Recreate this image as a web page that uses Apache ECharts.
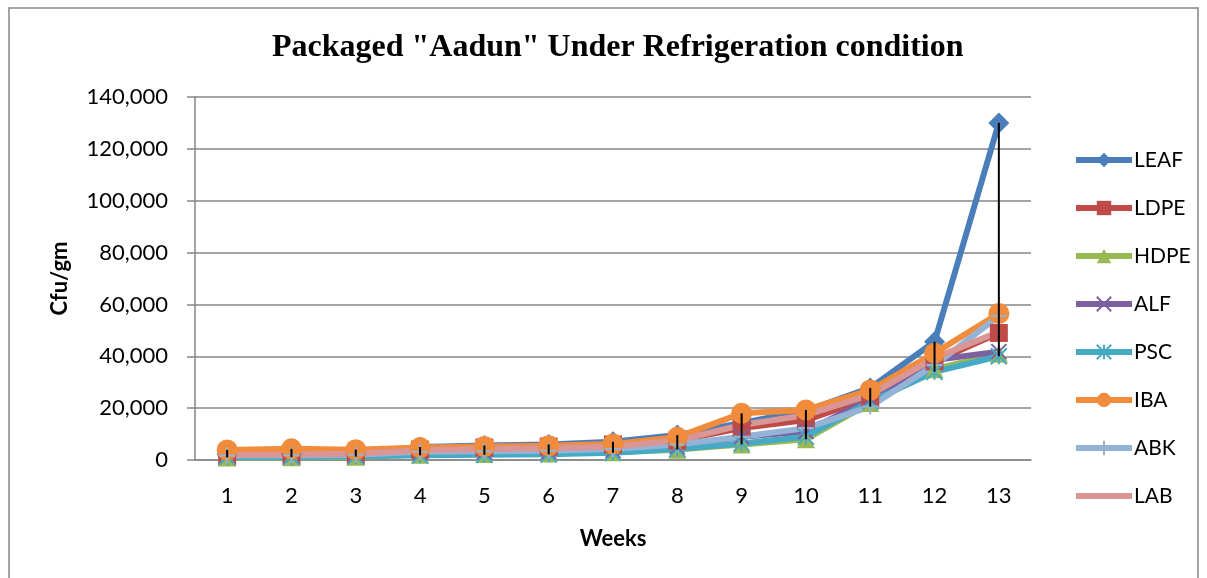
<!DOCTYPE html>
<html>
<head>
<meta charset="utf-8">
<script src="https://cdn.jsdelivr.net/npm/echarts@6/dist/echarts.min.js"></script>
<style>
  html, body { margin: 0; padding: 0; background: #fff; }
  #chart { width: 1207px; height: 578px; }
</style>
</head>
<body>
<div id="chart"></div>
<script>
// weeks on the x axis
var weeks = ['1', '2', '3', '4', '5', '6', '7', '8', '9', '10', '11', '12', '13'];
var yTicks = [0, 20000, 40000, 60000, 80000, 100000, 120000, 140000];

// Cfu/gm per packaging type
var LEAF = [2200, 2300, 2500, 5000, 5600, 6000, 7000, 9600, 14300, 19000, 27800, 45600, 130000];
var LDPE = [1200, 1300, 1500, 4000, 4800, 5200, 6000, 7500, 12300, 15400, 23900, 38000, 49000];
var HDPE = [1000, 1100, 1300, 2000, 2300, 2500, 3000, 4000, 6000, 8000, 22000, 35000, 41000];
var ALF = [1300, 1400, 1800, 2800, 3000, 3200, 3600, 5000, 9000, 11000, 23500, 38600, 41800];
var PSC = [1200, 1200, 1400, 1800, 2000, 2200, 2800, 4200, 6400, 9000, 22500, 34000, 40000];
var IBA = [3900, 4300, 4000, 4800, 5200, 5500, 6200, 8800, 18000, 19300, 27000, 41200, 56500];
var ABK = [1700, 1800, 2000, 3200, 3400, 3600, 4200, 6000, 9000, 12300, 20600, 36600, 55500];
var LAB = [2000, 2100, 2400, 3800, 4200, 4500, 5200, 7500, 13500, 17300, 25100, 39300, 49500];

var names = ['LEAF', 'LDPE', 'HDPE', 'ALF', 'PSC', 'IBA', 'ABK', 'LAB'];
var values = [LEAF, LDPE, HDPE, ALF, PSC, IBA, ABK, LAB];
var colors = ['#4A7EBB', '#BE4B48', '#98B954', '#7D60A0', '#46AAC5', '#F08C3C', '#95B3D7', '#D99694'];
var symbols = [
  'diamond', 'rect', 'triangle',
  'path://M0,0L10,10M10,0L0,10',
  'path://M5,0L5,10M0,0L10,10M10,0L0,10',
  'circle',
  'path://M5,0L5,10M0,5L10,5',
  'none'
];
var symSizes = [21, 18, 18, 15, 16, 21, 16, 0];

var font = 'Lato, "Open Sans", sans-serif';

// high-low lines built from the series
var hiLo = weeks.map(function (w, i) {
  var col = values.map(function (s) { return s[i]; });
  return [i, Math.min.apply(null, col), Math.max.apply(null, col)];
});

var series = names.map(function (n, k) {
  var isPath = symbols[k].indexOf('path://') === 0;
  return {
    name: n,
    type: 'line',
    data: values[k],
    symbol: symbols[k],
    symbolSize: symSizes[k],
    showSymbol: symbols[k] !== 'none',
    animation: false,
    lineStyle: { color: colors[k], width: 6 },
    itemStyle: isPath
      ? { color: colors[k], borderColor: colors[k], borderWidth: 2 }
      : { color: colors[k], borderColor: colors[k], borderWidth: 0 }
  };
});

series.push({
  type: 'custom',
  name: 'hilo',
  z: 10,
  silent: true,
  animation: false,
  data: hiLo,
  renderItem: function (params, api) {
    var lo = api.coord([api.value(0), api.value(1)]);
    var hi = api.coord([api.value(0), api.value(2)]);
    return {
      type: 'line',
      shape: { x1: lo[0], y1: lo[1], x2: hi[0], y2: hi[1] },
      style: { stroke: '#000', lineWidth: 2 }
    };
  }
});

// LAB has no marker: plain line icon in the legend
var legendData = names.map(function (n, k) {
  if (symbols[k] === 'none') {
    return { name: n, icon: 'path://M0,0L0.01,0M0,6L56,6L56,12L0,12ZM0,18L0.01,18' };
  }
  return { name: n };
});

var chart = echarts.init(document.getElementById('chart'));
chart.setOption({
  backgroundColor: '#fff',
  animation: false,
  graphic: [{
    type: 'rect',
    shape: { x: 9, y: 8, width: 1189, height: 600 },
    style: { fill: 'none', stroke: '#868686', lineWidth: 1.5 },
    silent: true
  }],
  title: {
    text: 'Packaged "Aadun" Under Refrigeration condition',
    left: 267,
    top: 27,
    textStyle: {
      fontFamily: '"Liberation Serif", "Times New Roman", serif',
      fontWeight: 'bold',
      fontSize: 32,
      color: '#000'
    }
  },
  grid: { left: 195, right: 176, top: 97, bottom: 118 },
  legend: {
    orient: 'vertical',
    left: 1068,
    top: 144,
    itemWidth: 56,
    itemHeight: 18,
    itemGap: 26,
    data: legendData,
    lineStyle: { width: 6 },
    textStyle: { fontFamily: font, fontSize: 21, color: '#000', lineHeight: 22, padding: [0, 0, 0, -3] }
  },
  xAxis: {
    type: 'category',
    data: weeks,
    boundaryGap: true,
    name: 'Weeks',
    nameLocation: 'middle',
    nameGap: 68,
    nameTextStyle: { fontFamily: font, fontWeight: 'bold', fontSize: 22, color: '#000' },
    axisLine: { lineStyle: { color: '#868686', width: 1.5 } },
    axisTick: { show: false },
    axisLabel: { fontFamily: font, fontSize: 22, color: '#000', margin: 25 }
  },
  yAxis: {
    type: 'value',
    min: yTicks[0],
    max: yTicks[yTicks.length - 1],
    interval: yTicks[1] - yTicks[0],
    name: 'Cfu/gm',
    nameLocation: 'middle',
    nameGap: 124,
    nameTextStyle: { fontFamily: font, fontWeight: 'bold', fontSize: 22, color: '#000' },
    axisLine: { show: true, lineStyle: { color: '#868686', width: 1.5 } },
    axisTick: { show: true, length: 8, lineStyle: { color: '#868686', width: 1.5 } },
    splitLine: { lineStyle: { color: '#868686', width: 1.5 } },
    axisLabel: {
      fontFamily: font, fontSize: 22, color: '#000', margin: 27,
      formatter: function (v) { return v.toLocaleString('en-US'); }
    }
  },
  series: series
});
</script>
</body>
</html>
